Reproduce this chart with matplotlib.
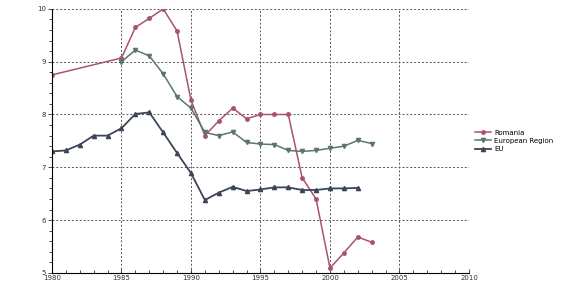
import matplotlib.pyplot as plt
from matplotlib.ticker import MultipleLocator

# Data
years_ro = [1980, 1985, 1986, 1987, 1988, 1989, 1990, 1991, 1992, 1993, 1994,
            1995, 1996, 1997, 1998, 1999, 2000, 2001, 2002, 2003]
romania = [8.75, 9.07, 9.65, 9.82, 10.0, 9.58, 8.27, 7.6, 7.88, 8.12, 7.92,
           8.0, 8.0, 8.0, 6.8, 6.4, 5.09, 5.38, 5.68, 5.58]

years_eur = list(range(1985, 2004))
european_region = [9.0, 9.22, 9.11, 8.77, 8.34, 8.12, 7.66, 7.6, 7.67, 7.47,
                   7.44, 7.43, 7.32, 7.3, 7.32, 7.36, 7.4, 7.51, 7.45]

years_eu = list(range(1980, 2003))
eu = [7.3, 7.32, 7.43, 7.6, 7.6, 7.74, 8.01, 8.04, 7.66, 7.27, 6.89, 6.38,
      6.52, 6.63, 6.55, 6.58, 6.62, 6.62, 6.57, 6.57, 6.6, 6.6, 6.61]

fig = plt.figure(figsize=(5.62, 2.96), dpi=100)
ax = fig.add_axes([0.0925, 0.078, 0.742, 0.892])

ax.plot(years_ro, romania, color='#a8546a', marker='o', markersize=2.5,
        linewidth=1.1, label='Romania')
ax.plot(years_eur, european_region, color='#5a7868', marker='v', markersize=3,
        linewidth=1.1, label='European Region')
ax.plot(years_eu, eu, color='#3c4656', marker='^', markersize=3,
        linewidth=1.3, label='EU')

ax.set_xlim(1980, 2010)
ax.set_ylim(5, 10)
ax.xaxis.set_major_locator(MultipleLocator(5))
ax.xaxis.set_minor_locator(MultipleLocator(1))
ax.yaxis.set_major_locator(MultipleLocator(1))
ax.yaxis.set_minor_locator(MultipleLocator(0.2))
ax.grid(which='major', linestyle=(0, (2, 2)), color='#555555', linewidth=0.7)

for side in ['top', 'right']:
    ax.spines[side].set_visible(False)
ax.spines['left'].set_linewidth(0.8)
ax.spines['bottom'].set_linewidth(0.8)
ax.tick_params(axis='both', labelsize=5, length=3, width=0.6, pad=1.5, colors='#333333')
ax.tick_params(axis='x', which='both', direction='in')
ax.tick_params(axis='both', which='minor', length=2, width=0.5)

ax.legend(loc='center left', bbox_to_anchor=(1.0, 0.5), fontsize=5,
          frameon=False, handlelength=2.2, labelspacing=0.3, handletextpad=0.5)

fig.savefig('out.png', dpi=100)
